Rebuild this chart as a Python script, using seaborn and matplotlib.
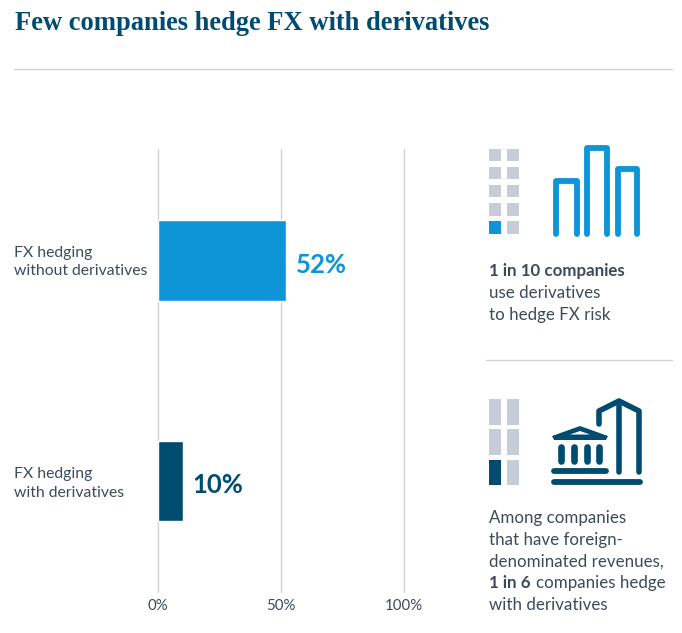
"""Share of companies hedging FX, with and without derivatives."""

import matplotlib
matplotlib.use("Agg")
import matplotlib.pyplot as plt
from matplotlib.patches import Polygon, Rectangle
import pandas as pd
import seaborn as sns

CATEGORIES = ["FX hedging\nwithout derivatives", "FX hedging\nwith derivatives"]
SHARES = [52, 10]
SHARE_LABELS = ["52%", "10%"]
X_TICKS = [0, 50, 100]
X_TICK_LABELS = ["0%", "50%", "100%"]

BLUE = "#0d95d8"
NAVY = "#004c70"
GREY = "#c8ccd8"
TEXT = "#3c4a5a"
RULE = "#d4d4d4"

W, H = 682, 633

sns.set_theme(style="white")
plt.rcParams["font.family"] = ["Lato", "DejaVu Sans"]

fig = plt.figure(figsize=(W / 100, H / 100), dpi=100)
ax = fig.add_axes([158 / W, 1 - 592 / H, 246 / W, 443 / H])

df = pd.DataFrame({"category": CATEGORIES, "share": SHARES})
sns.barplot(data=df, x="share", y="category", hue="category", saturation=1,
            palette=[BLUE, NAVY], width=0.365, legend=False, ax=ax, zorder=3)
ax.set_xlim(0, 100)
ax.set_ylim(1.503, -0.506)
ax.set_xticks(X_TICKS, X_TICK_LABELS)
ax.set_xlabel("")
ax.set_ylabel("")
ax.tick_params(axis="x", length=0, labelsize=10.8, labelcolor=TEXT, pad=5)
ax.tick_params(axis="y", length=0)
ax.set_yticklabels([])
ax.xaxis.grid(True, color=RULE, linewidth=1, clip_on=False)
ax.set_axisbelow(True)
sns.despine(ax=ax, left=True, bottom=True, top=True, right=True)

for i, (share, label) in enumerate(zip(SHARES, SHARE_LABELS)):
    ax.annotate(label, (share, i), xytext=(7, -3), textcoords="offset points",
                va="center", ha="left", fontsize=18.5, fontweight="bold",
                color=BLUE if i == 0 else NAVY)

# overlay in pixel coordinates for title, side panel and icons
ov = fig.add_axes([0, 0, 1, 1], zorder=5)
ov.set_xlim(0, W)
ov.set_ylim(H, 0)
ov.axis("off")
ov.patch.set_alpha(0)

ov.text(15, 23, "Few companies hedge FX with derivatives", fontsize=19.1,
        fontweight="bold", family="Liberation Serif", color=NAVY, va="center")
ov.plot([14, 672], [68.5, 68.5], color=RULE, lw=1)
ov.plot([486, 672], [359.5, 359.5], color=RULE, lw=1)

# category labels, left aligned at the page margin
for y, cat in zip([262, 483.5], CATEGORIES):
    ov.text(14, y, cat, fontsize=11.35, color=TEXT, va="center", linespacing=1.45)


def mixed_lines(x, lines, y0, step):
    for i, (txt, bold) in enumerate(lines):
        ov.text(x, y0 + i * step, txt, fontsize=12.2, color=TEXT, va="center",
                fontweight="bold" if bold else "normal")


mixed_lines(489, [("1 in 10 companies", True), ("use derivatives", False),
                  ("to hedge FX risk", False)], 271, 22)
mixed_lines(489, [("Among companies", False), ("that have foreign-", False),
                  ("denominated revenues,", False), ("1 in 6", True),
                  ("with derivatives", False)], 518, 21.8)
ov.text(536, 518 + 3 * 21.8, "companies hedge", fontsize=12.2, color=TEXT, va="center")

# waffle icon, 1 in 10
for row in range(5):
    for col in range(2):
        hit = row == 4 and col == 0
        ov.add_patch(Rectangle((488.5 + col * 18, 148.5 + row * 18.2), 12.5, 12.5,
                               color=BLUE if hit else GREY, lw=0))

# waffle icon, 1 in 6
for row in range(3):
    for col in range(2):
        hit = row == 2 and col == 0
        ov.add_patch(Rectangle((488.5 + col * 18, 399 + row * 30.3), 12.5, 25.5,
                               color=NAVY if hit else GREY, lw=0))

# skyline icon
for x0, x1, top in [(556, 577, 181), (587, 607, 148), (618, 637, 169)]:
    ov.plot([x0, x0, x1, x1], [234, top, top, 234], color=BLUE, lw=4.2,
            solid_capstyle="round", solid_joinstyle="round")

# bank icon
ov.plot([554, 640], [482, 482], color=NAVY, lw=4.2, solid_capstyle="round")
ov.plot([554, 606], [470.5, 470.5], color=NAVY, lw=4.2, solid_capstyle="round")
for x in [560.5, 573.5, 586.5, 599]:
    ov.plot([x, x], [447, 461], color=NAVY, lw=4.8, solid_capstyle="round")
ov.add_patch(Polygon([(552, 436), (580, 426), (608, 436), (606, 440), (554, 440)],
                     closed=True, color=NAVY, lw=0))
ov.add_patch(Polygon([(570, 434.5), (580, 431), (590, 434.5)], closed=True,
                     color="white", lw=0))
ov.plot([599, 599, 619, 639, 639], [424, 411, 401, 411, 472], color=NAVY, lw=4,
        solid_capstyle="round", solid_joinstyle="round")
ov.plot([619, 619], [402, 472], color=NAVY, lw=4, solid_capstyle="round")

fig.savefig("out.png", dpi=100)
plt.close(fig)
